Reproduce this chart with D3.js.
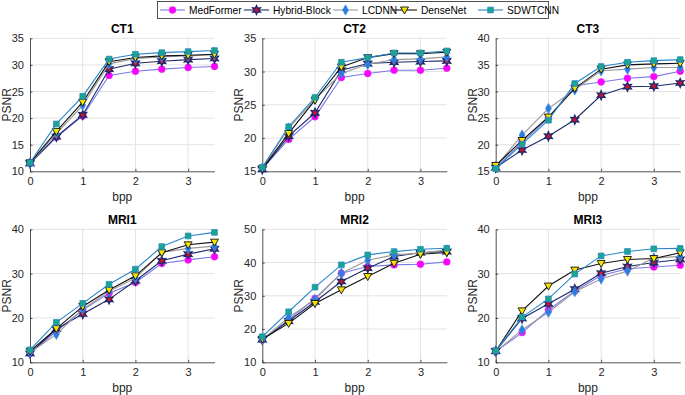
<!DOCTYPE html>
<html>
<head>
<meta charset="utf-8">
<script src="https://cdn.jsdelivr.net/npm/d3@7"></script>
<style>
  body { margin: 0; background: #fff; }
  text { font-family: "Liberation Sans", Arial, sans-serif; }
</style>
</head>
<body>
<div class="fig"></div>
<script>
const width = 685, height = 395;

// data
const bpp = [0, 0.5, 1, 1.5, 2, 2.5, 3, 3.5];
const methods = ["MedFormer", "Hybrid-Block", "LCDNN", "DenseNet", "SDWTCNN"];

const ct1 = {
    MedFormer:      [11.5, 16.4, 20.4, 28.0, 28.8, 29.2, 29.5, 29.7],
    "Hybrid-Block": [11.5, 16.5, 20.6, 29.2, 30.3, 30.7, 31.0, 31.2],
    LCDNN:          [11.5, 17.1, 22.4, 30.2, 31.2, 31.5, 31.7, 31.9],
    DenseNet:       [11.6, 17.5, 23.0, 30.6, 31.4, 31.7, 31.8, 32.0],
    SDWTCNN:        [11.6, 18.9, 24.1, 31.1, 32.0, 32.3, 32.5, 32.7]
};
const ct2 = {
    MedFormer:      [15.4, 19.8, 23.2, 29.1, 29.7, 30.2, 30.2, 30.5],
    "Hybrid-Block": [15.3, 20.3, 23.8, 30.2, 31.2, 31.4, 31.5, 31.6],
    LCDNN:          [15.5, 21.5, 25.8, 29.7, 31.1, 31.8, 31.9, 32.2],
    DenseNet:       [15.4, 20.7, 25.7, 30.7, 32.1, 32.7, 32.7, 32.9],
    SDWTCNN:        [15.6, 21.7, 26.1, 31.4, 32.1, 32.8, 32.8, 33.1]
};
const ct3 = {
    MedFormer:      [15.7, 20.5, 25.0, 31.1, 31.8, 32.5, 32.8, 33.8],
    "Hybrid-Block": [15.7, 19.0, 21.6, 24.7, 29.3, 30.9, 31.0, 31.6],
    LCDNN:          [15.9, 21.8, 26.8, 30.3, 33.9, 34.2, 34.5, 34.5],
    DenseNet:       [16.1, 20.8, 25.2, 30.6, 34.2, 35.0, 35.2, 35.3],
    SDWTCNN:        [15.5, 20.1, 24.6, 31.5, 34.7, 35.5, 35.8, 36.0]
};
const mri1 = {
    MedFormer:      [12.0, 17.0, 21.8, 25.6, 28.0, 32.3, 33.1, 33.8],
    "Hybrid-Block": [12.0, 17.5, 20.9, 24.2, 28.4, 32.9, 34.4, 35.6],
    LCDNN:          [12.2, 16.3, 22.0, 26.0, 29.0, 34.8, 35.7, 36.2],
    DenseNet:       [12.5, 17.6, 22.6, 26.3, 29.5, 34.7, 36.5, 37.1],
    SDWTCNN:        [12.8, 19.0, 23.3, 27.6, 31.0, 36.1, 38.5, 39.3]
};
const mri2 = {
    MedFormer:      [16.7, 22.8, 29.2, 36.8, 38.8, 39.3, 39.5, 40.2],
    "Hybrid-Block": [16.8, 22.4, 28.2, 34.3, 38.3, 41.8, 43.0, 43.3],
    LCDNN:          [16.8, 23.5, 28.9, 36.8, 40.7, 42.3, 42.8, 43.8],
    DenseNet:       [17.0, 21.7, 27.7, 31.8, 35.8, 39.8, 42.5, 43.0],
    SDWTCNN:        [17.7, 25.2, 32.6, 39.3, 42.3, 43.3, 44.0, 44.3]
};
const mri3 = {
    MedFormer:      [12.4, 16.7, 21.8, 26.1, 29.6, 31.1, 31.5, 31.9],
    "Hybrid-Block": [12.5, 19.9, 23.2, 26.5, 30.1, 31.6, 32.5, 33.2],
    LCDNN:          [12.4, 17.3, 21.3, 25.9, 28.8, 30.6, 33.5, 33.9],
    DenseNet:       [12.5, 21.6, 27.2, 30.8, 32.3, 33.2, 33.4, 34.7],
    SDWTCNN:        [12.6, 20.2, 24.3, 29.9, 34.0, 35.0, 35.6, 35.7]
};

const panels = [
    { title: "CT1",  data: ct1,  yDomain: [10, 35], yTicks: [10, 15, 20, 25, 30, 35], col: 0, row: 0 },
    { title: "CT2",  data: ct2,  yDomain: [15, 35], yTicks: [15, 20, 25, 30, 35], col: 1, row: 0 },
    { title: "CT3",  data: ct3,  yDomain: [15, 40], yTicks: [15, 20, 25, 30, 35, 40], col: 2, row: 0 },
    { title: "MRI1", data: mri1, yDomain: [10, 40], yTicks: [10, 20, 30, 40], col: 0, row: 1 },
    { title: "MRI2", data: mri2, yDomain: [10, 50], yTicks: [10, 20, 30, 40, 50], col: 1, row: 1 },
    { title: "MRI3", data: mri3, yDomain: [10, 40], yTicks: [10, 20, 30, 40], col: 2, row: 1 }
];
const xTicks = [0, 1, 2, 3];

// 6-pointed star (MATLAB hexagram)
const hexagram = {
    draw(context, size) {
        const r = Math.sqrt(size) * 0.75, ri = r * 0.5;
        for (let i = 0; i < 12; i++) {
            const a = -Math.PI / 2 + i * Math.PI / 6;
            const rr = i % 2 === 0 ? r : ri;
            const x = rr * Math.cos(a), y = rr * Math.sin(a);
            if (i === 0) context.moveTo(x, y); else context.lineTo(x, y);
        }
        context.closePath();
    }
};
const triDown = {
    draw(context, size) {
        const s = Math.sqrt(size);
        context.moveTo(-s * 0.6, -s * 0.45);
        context.lineTo(s * 0.6, -s * 0.45);
        context.lineTo(0, s * 0.6);
        context.closePath();
    }
};

const styles = {
    MedFormer:      { line: "#7b78e8", fill: "#ff00ff", stroke: "#d040e0", sym: d3.symbolCircle, size: 38, sw: 0.5 },
    "Hybrid-Block": { line: "#1c2a6b", fill: "#d0102a", stroke: "#1c2a6b", sym: hexagram, size: 36, sw: 1.3 },
    LCDNN:          { line: "#9a9a9a", fill: "#2a7de1", stroke: "#4a8ae0", sym: d3.symbolDiamond, size: 32, sw: 0.5 },
    DenseNet:       { line: "#111111", fill: "#f5e400", stroke: "#111111", sym: triDown, size: 44, sw: 0.9 },
    SDWTCNN:        { line: "#2a86c8", fill: "#17a68e", stroke: "#2a86c8", sym: d3.symbolSquare, size: 32, sw: 0.8 }
};

const colX = [30, 262.3, 495.7];
const rowTop = [38.3, 229.3];
const pw = 184.5, ph = 133;

const svg = d3.select(".fig").append("svg")
    .attr("width", width)
    .attr("height", height);

panels.forEach(p => {
    const g = svg.append("g")
        .attr("transform", `translate(${colX[p.col]},${rowTop[p.row]})`);

    const x = d3.scaleLinear().domain([0, 3.5]).range([0, pw]);
    const y = d3.scaleLinear().domain(p.yDomain).range([ph, 0]);

    // grid
    g.selectAll(".gx").data(xTicks.filter(d => d > 0)).join("line")
        .attr("x1", d => x(d)).attr("x2", d => x(d))
        .attr("y1", 0).attr("y2", ph)
        .attr("stroke", "#e3e3e3").attr("stroke-width", 1);
    g.selectAll(".gy").data(p.yTicks.slice(1)).join("line")
        .attr("x1", 0).attr("x2", pw)
        .attr("y1", d => y(d)).attr("y2", d => y(d))
        .attr("stroke", "#e3e3e3").attr("stroke-width", 1);

    // axes
    const xAxis = g.append("g")
        .attr("transform", `translate(0,${ph})`)
        .call(d3.axisBottom(x).tickValues(xTicks).tickFormat(d3.format("d"))
            .tickSizeInner(-2.5).tickSizeOuter(0).tickPadding(6));
    const yAxis = g.append("g")
        .call(d3.axisLeft(y).tickValues(p.yTicks).tickFormat(d3.format("d"))
            .tickSizeInner(-2.5).tickSizeOuter(0).tickPadding(6));
    [xAxis, yAxis].forEach(a => {
        a.select(".domain").attr("stroke", "#262626").attr("stroke-width", 0.8);
        a.selectAll(".tick line").attr("stroke", "#262626").attr("stroke-width", 0.8);
        a.selectAll(".tick text").attr("fill", "#262626")
            .style("font-size", "11px")
            .style("font-family", "'Liberation Sans', Arial, sans-serif");
    });

    // series
    const line = d3.line().x((d, i) => x(bpp[i])).y(d => y(d));
    methods.forEach(m => {
        const st = styles[m];
        g.append("path")
            .datum(p.data[m])
            .attr("fill", "none")
            .attr("stroke", st.line)
            .attr("stroke-width", 1.1)
            .attr("d", line);
        g.selectAll(null).data(p.data[m]).join("path")
            .attr("transform", (d, i) => `translate(${x(bpp[i])},${y(d)})`)
            .attr("d", d3.symbol().type(st.sym).size(st.size))
            .attr("fill", st.fill)
            .attr("stroke", st.stroke)
            .attr("stroke-width", st.sw);
    });

    // labels
    g.append("text")
        .attr("x", pw / 2).attr("y", -5)
        .attr("text-anchor", "middle")
        .style("font-size", "12px").style("font-weight", "bold")
        .attr("fill", "#000")
        .text(p.title);
    g.append("text")
        .attr("x", pw / 2).attr("y", ph + 30)
        .attr("text-anchor", "middle")
        .style("font-size", "12px")
        .attr("fill", "#262626")
        .text("bpp");
    g.append("text")
        .attr("transform", `translate(-19,${ph / 2}) rotate(-90)`)
        .attr("text-anchor", "middle")
        .style("font-size", "12px")
        .attr("fill", "#262626")
        .text("PSNR");
});

// legend
const leg = svg.append("g");
leg.append("rect")
    .attr("x", 157.5).attr("y", 1.5)
    .attr("width", 391).attr("height", 17)
    .attr("fill", "#fff").attr("stroke", "#262626").attr("stroke-width", 0.8);
const legX = [160, 244, 333, 392, 478];
methods.forEach((m, i) => {
    const st = styles[m];
    const lx = legX[i];
    leg.append("line")
        .attr("x1", lx).attr("x2", lx + 25)
        .attr("y1", 10).attr("y2", 10)
        .attr("stroke", st.line).attr("stroke-width", 1.1);
    leg.append("path")
        .attr("transform", `translate(${lx + 12.5},10)`)
        .attr("d", d3.symbol().type(st.sym).size(st.size))
        .attr("fill", st.fill).attr("stroke", st.stroke).attr("stroke-width", st.sw);
    leg.append("text")
        .attr("x", lx + 29).attr("y", 14)
        .style("font-size", "10.2px")
        .attr("fill", "#000")
        .text(m);
});
</script>
</body>
</html>
